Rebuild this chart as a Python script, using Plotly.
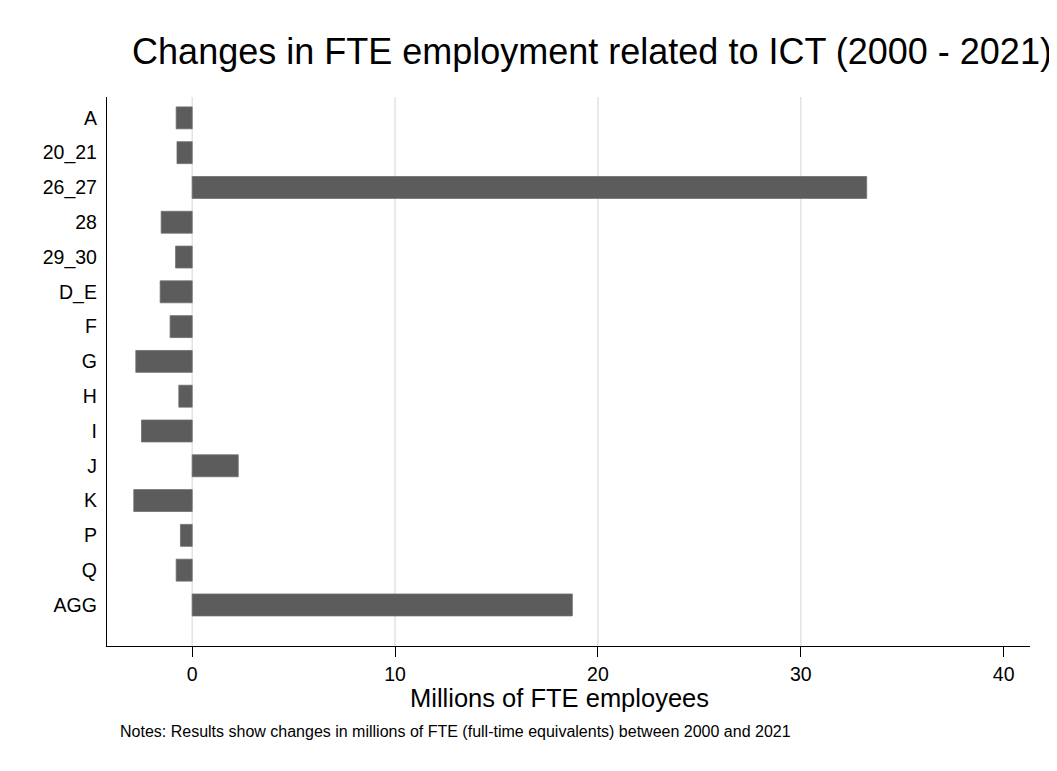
import plotly.graph_objects as go

categories = ["A", "20_21", "26_27", "28", "29_30", "D_E", "F", "G", "H", "I", "J", "K", "P", "Q", "AGG"]
values = [-0.79, -0.75, 33.25, -1.53, -0.82, -1.58, -1.09, -2.78, -0.66, -2.5, 2.27, -2.88, -0.58, -0.79, 18.74]
x_ticks = [0, 10, 20, 30, 40]
grid_ticks = [0, 10, 20, 30]

# page body adds an 8px offset; target screen coords minus 8
L, T, R, B = 99, 89, 1022, 638
PW, PH = R - L, B - T

fig = go.Figure()
fig.add_trace(go.Bar(
    y=categories, x=values, orientation="h",
    marker=dict(color="#5c5c5c", line=dict(color="#6e6e6e", width=0.8)),
    width=0.63,
))

font_family = "Liberation Sans, Arial, sans-serif"
fig.update_layout(
    width=1057, height=771,
    margin=dict(l=L, r=1057 - R, t=T, b=771 - B, autoexpand=False),
    plot_bgcolor="white", paper_bgcolor="white",
    showlegend=False,
    font=dict(family=font_family, color="black"),
    title=dict(text="Changes in FTE employment related to ICT (2000 - 2021)",
               x=584 / 1057, xanchor="center", y=1 - 43 / 771, yanchor="middle",
               font=dict(size=36, family=font_family, color="black")),
    xaxis=dict(range=[-4.2, 41.3], tickvals=x_ticks, showgrid=False,
               zeroline=False, showline=True, linecolor="black", linewidth=1.3,
               ticks="outside", ticklen=10, tickcolor="black", tickwidth=1.3,
               tickfont=dict(size=19.5), automargin=False),
    yaxis=dict(type="category", categoryorder="array", categoryarray=categories,
               range=[15.18, -0.6], showgrid=False, zeroline=False,
               showline=True, linecolor="black", linewidth=1.3, ticks="",
               ticklabelstandoff=5, automargin=False,
               tickfont=dict(size=19.5)),
    annotations=[
        dict(text="Millions of FTE employees", xref="paper", yref="paper", x=(551 - L) / PW,
             y=-(690 - B) / PH, xanchor="center", yanchor="middle", showarrow=False,
             font=dict(size=25.5)),
        dict(text="Notes: Results show changes in millions of FTE (full-time equivalents) between 2000 and 2021",
             xref="paper", yref="paper", x=(110 - L) / PW, y=-(723 - B) / PH,
             xanchor="left", yanchor="middle", showarrow=False, font=dict(size=16)),
    ],
)
for g in grid_ticks:
    fig.add_shape(type="line", xref="x", yref="paper", x0=g, x1=g, y0=0, y1=1,
                  line=dict(color="#e3e3e3", width=1.5), layer="below")
fig.write_html("out.html")
